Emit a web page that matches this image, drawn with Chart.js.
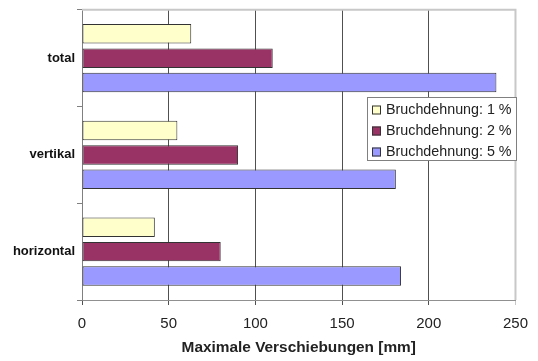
<!DOCTYPE html>
<html>
<head>
<meta charset="utf-8">
<script src="https://cdn.jsdelivr.net/npm/chart.js@4"></script>
<style>
  html, body { margin: 0; padding: 0; background: #fff; }
  #wrap { width: 538px; height: 361px; position: relative; }
</style>
</head>
<body>
<div id="wrap"><canvas id="chart"></canvas></div>
<script>
// Data
const categories = ['total', 'vertikal', 'horizontal'];
const seriesLabels = ['Bruchdehnung: 1 %', 'Bruchdehnung: 2 %', 'Bruchdehnung: 5 %'];
const values1pct = [63, 55, 42];
const values2pct = [110, 90, 80];
const values5pct = [239, 181, 184];
const xMin = 0;
const xMax = 250;
const xStep = 50;

const FONT = '"Liberation Sans", Arial, sans-serif';
const fills = ['#ffffcc', '#993366', '#9999ff'];

// Light grey plot frame (top + right edge) like the original spreadsheet chart
const frame = {
  id: 'frame',
  beforeDatasetsDraw(chart) {
    const { ctx, chartArea: a } = chart;
    ctx.save();
    ctx.strokeStyle = '#c8c8c8';
    ctx.lineWidth = 2;
    ctx.beginPath();
    ctx.moveTo(a.left, a.top);
    ctx.lineTo(a.right, a.top);
    ctx.lineTo(a.right, a.bottom);
    ctx.stroke();
    ctx.restore();
  }
};

// Legend box placed inside the plot area
const boxLegend = {
  id: 'boxLegend',
  afterDraw(chart) {
    const { ctx } = chart;
    const bx = 367, by = 97, bw = 150, bh = 64;
    ctx.save();
    ctx.fillStyle = '#fff';
    ctx.fillRect(bx, by, bw, bh);
    ctx.strokeStyle = '#808080';
    ctx.lineWidth = 1;
    ctx.strokeRect(bx + 0.5, by + 0.5, bw - 1, bh - 1);
    ctx.font = '14.3px ' + FONT;
    ctx.textBaseline = 'middle';
    chart.data.datasets.forEach((ds, i) => {
      const cy = 110 + i * 21;
      ctx.fillStyle = ds.backgroundColor;
      ctx.fillRect(372, cy - 4.5, 9, 9);
      ctx.strokeStyle = '#333';
      ctx.strokeRect(372.5, cy - 4, 8, 8);
      ctx.fillStyle = '#222';
      ctx.fillText(ds.label, 386, cy + 0.5);
    });
    ctx.restore();
  }
};

const seriesValues = [values1pct, values2pct, values5pct];

new Chart(document.getElementById('chart'), {
  type: 'bar',
  data: {
    labels: categories,
    datasets: seriesLabels.map((label, i) => ({
      label,
      data: seriesValues[i],
      backgroundColor: fills[i],
      borderColor: '#333',
      borderWidth: 1,
      borderSkipped: false,
      categoryPercentage: 0.755,
      barPercentage: 0.8
    }))
  },
  options: {
    indexAxis: 'y',
    responsive: true,
    maintainAspectRatio: false,
    animation: false,
    layout: { padding: { top: 8, right: 18, left: 0, bottom: 0 } },
    plugins: {
      legend: { display: false },
      tooltip: { enabled: false }
    },
    scales: {
      x: {
        min: xMin,
        max: xMax,
        afterFit(scale) { scale.height = 61; },
        border: { color: '#909090' },
        grid: {
          color: c => (c.tick && c.tick.value === xMax ? '#c8c8c8' : '#505050'),
          tickLength: 5
        },
        ticks: {
          stepSize: xStep,
          color: '#222',
          padding: 10,
          font: { family: FONT, size: 15 }
        },
        title: {
          display: true,
          text: 'Maximale Verschiebungen [mm]',
          color: '#222',
          padding: { top: 0, bottom: 4 },
          font: { family: FONT, size: 15.4, weight: 'bold' }
        }
      },
      y: {
        afterFit(scale) { scale.width = 82; },
        border: { color: '#808080' },
        grid: {
          drawOnChartArea: false,
          offset: true,
          color: '#808080',
          tickLength: 5
        },
        ticks: {
          color: '#111',
          padding: 2,
          font: { family: FONT, size: 13, weight: 'bold' }
        }
      }
    }
  },
  plugins: [frame, boxLegend]
});
</script>
</body>
</html>
